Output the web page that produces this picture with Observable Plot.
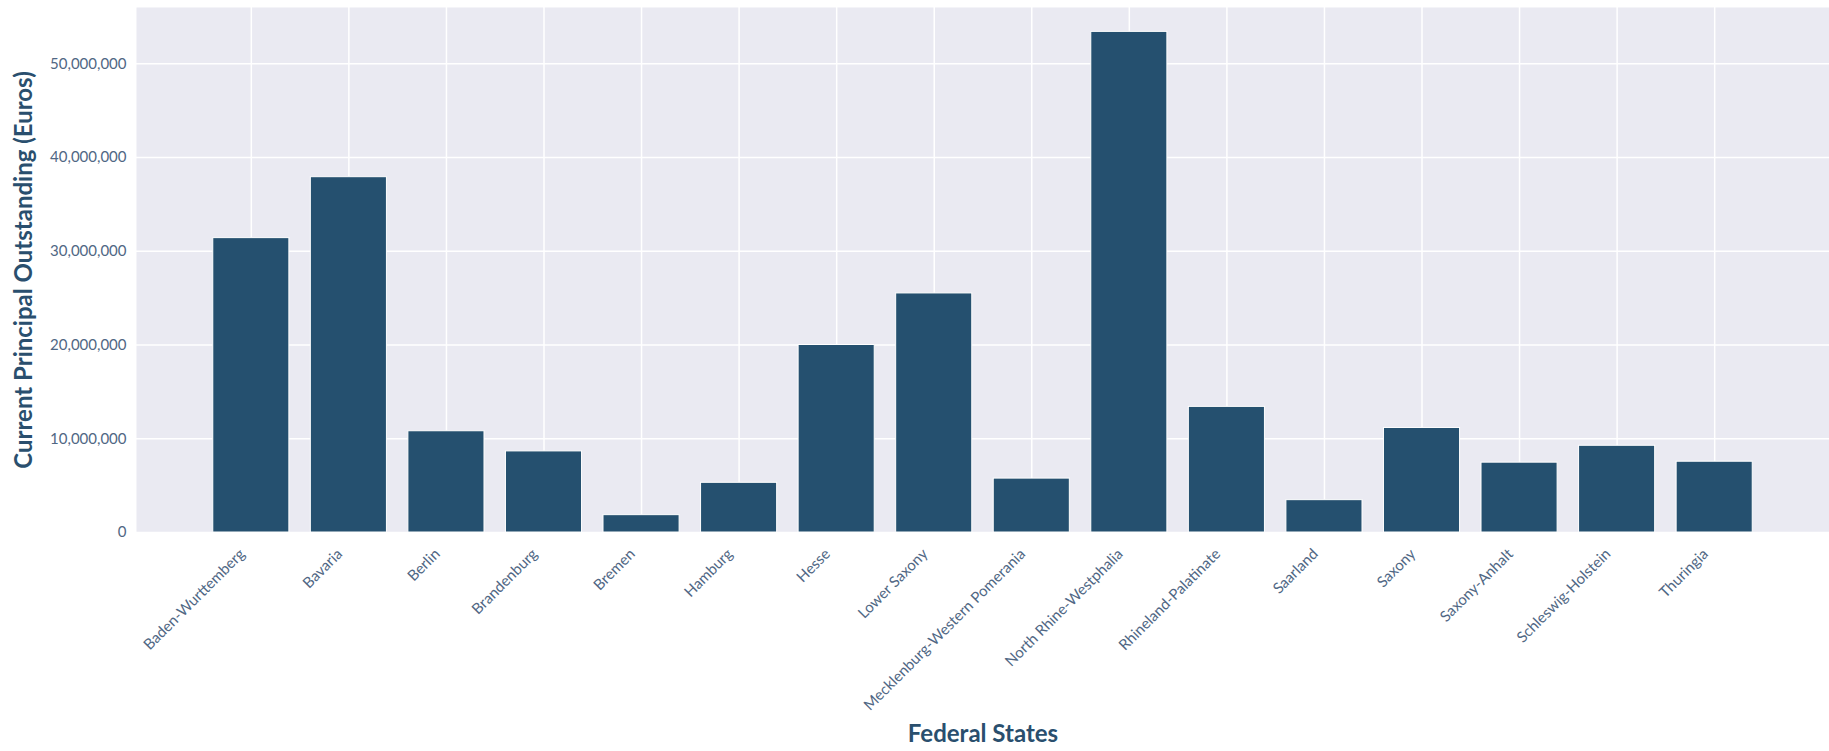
<!DOCTYPE html>
<html><head><meta charset="utf-8">
<script src="https://cdn.jsdelivr.net/npm/d3@7"></script>
<script src="https://cdn.jsdelivr.net/npm/@observablehq/plot@0.6"></script>
<style>body{margin:0;background:#fff;}</style>
</head><body><div id="chart"></div>
<script>
const states = ["Baden-Wurttemberg","Bavaria","Berlin","Brandenburg","Bremen","Hamburg","Hesse","Lower Saxony","Mecklenburg-Western Pomerania","North Rhine-Westphalia","Rhineland-Palatinate","Saarland","Saxony","Saxony-Anhalt","Schleswig-Holstein","Thuringia"];
const principal = [31400000,37900000,10800000,8650000,1850000,5300000,20000000,25500000,5750000,53400000,13400000,3450000,11150000,7450000,9250000,7550000];
const yTicks = [0,10000000,20000000,30000000,40000000,50000000];
const yLabel = "Current Principal Outstanding (Euros)";
const xLabel = "Federal States";

const data = states.map((s,i)=>({state:s, value:principal[i]}));
const chart = Plot.plot({
  width:1829, height:751, marginLeft:136, marginRight:0, marginTop:7, marginBottom:219,
  style:{fontFamily:"Lato, sans-serif", background:"#fff", overflow:"visible"},
  x:{type:"band", domain:states, paddingInner:0.22, paddingOuter:0.787, round:false, label:xLabel},
  y:{domain:[0,56000000], label:yLabel},
  marks:[
    Plot.frame({fill:"#eaeaf2", stroke:null}),
    Plot.gridY(yTicks,{stroke:"#fff", strokeOpacity:1, strokeWidth:1.5}),
    Plot.gridX({stroke:"#fff", strokeOpacity:1, strokeWidth:1.5}),
    Plot.barY(data,{x:"state", y:"value", fill:"#25506f", stroke:"#fff", strokeWidth:1}),
    Plot.axisY(yTicks,{tickFormat:d3.format(","), tickSize:0, tickPadding:10, fontSize:15, color:"#506784", label:yLabel, labelAnchor:"center", labelOffset:122, labelArrow:"none"}),
    Plot.axisX({tickRotate:-45, tickSize:0, tickPadding:19, dx:-9, fontSize:15, color:"#506784", label:xLabel, labelAnchor:"center", labelOffset:209, labelArrow:"none"})
  ]
});
document.getElementById("chart").appendChild(chart);
d3.select(chart).selectAll('g[aria-label="x-axis label"] text, g[aria-label="y-axis label"] text')
  .attr("font-size", 24).attr("font-weight", "bold").attr("fill", "#2a4f6e");
</script>
</body></html>
